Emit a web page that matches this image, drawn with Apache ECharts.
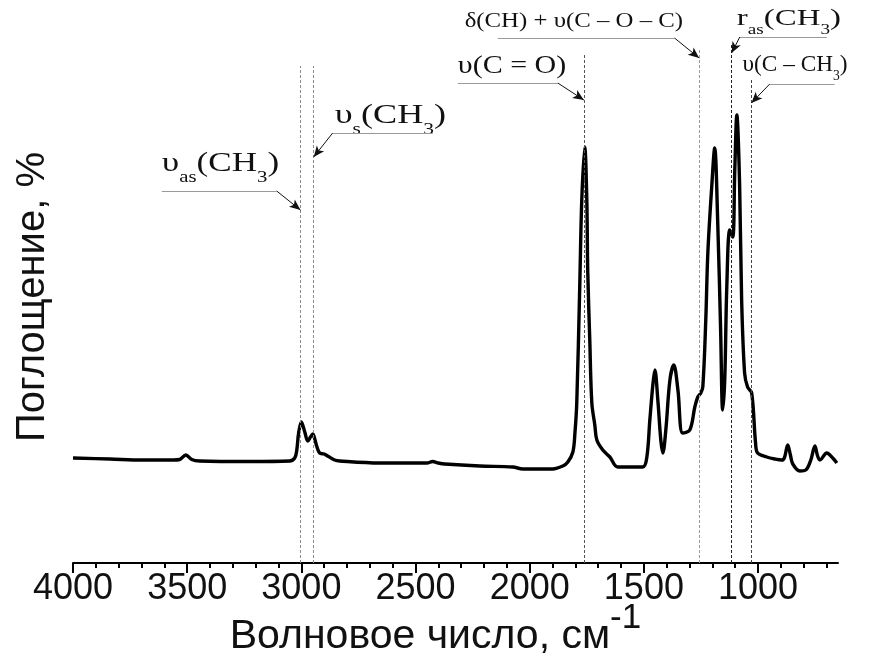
<!DOCTYPE html>
<html><head><meta charset="utf-8">
<script src="https://cdn.jsdelivr.net/npm/echarts@6/dist/echarts.min.js"></script>
<style>html,body{margin:0;padding:0;background:#fff}#c{width:882px;height:659px}</style>
</head><body><div id="c"></div>
<script>
// ---- data ----
const wavenumbers = [4000,3839,3695,3560,3533,3506,3480,3445,3226,3051,3029,3020,3012,3000,2985,2972,2960,2950,2940,2933,2920,2900,2885,2854,2832,2657,2450,2425,2400,2372,2219,2074,2030,1899,1855,1833,1811,1802,1794,1781,1772,1759,1750,1746,1737,1728,1715,1706,1680,1649,1614,1505,1487,1474,1460,1452,1439,1426,1417,1404,1386,1369,1351,1330,1299,1277,1264,1251,1242,1229,1220,1203,1190,1177,1164,1155,1146,1137,1124,1111,1102,1093,1081,1072,1059,1046,1028,1011,1002,962,927,896,885,870,858,848,817,791,769,751,740,729,699,673,655];
const absorbance = [21.0,20.8,20.6,20.6,20.7,21.6,20.7,20.4,20.3,20.4,21.0,22.6,26,28.2,26.2,24.4,25.2,25.8,24.6,23.4,22,21.8,21.4,20.6,20.4,20.0,20.0,20.3,20.0,19.8,19.4,19.2,18.8,18.8,19.4,20.2,22.2,26,32,55.2,72.6,83.2,72.6,58.6,44.6,32,27.6,24.6,22.6,21.2,19.2,19.2,21.2,28.6,36,38.6,32.6,24.6,22,26.6,36.6,39.6,34.6,26,26.6,31.2,33.2,34,35.2,48.6,62,75.2,83,68.6,46.6,30.6,36.6,55.2,66.6,65.2,78.6,89.6,76,52.6,38,35.2,34,24,22,21.2,20.8,20.6,21,23.6,21.5,19.8,18.4,18.6,20.6,23.4,21.5,20.6,22,21,20];
const xTickLabels = [4000,3500,3000,2500,2000,1500,1000];
const bandPositions = [3004, 2946, 1763, 1258, 1116, 1029];
const bandLineTops = [99.4, 99.4, 102, 102.6, 104, 96.6];
const bandLineColors = ['#8a8a8a','#8a8a8a','#555','#9a9a9a','#222','#444'];

// annotation labels
const annotations = [
  {text:'{m|υ}{s|as}{m|(CH}{s|3}{m|)}', size:27, sx:1.3, at:[3611,79], ul:[3611,3108], ulv:74.4, tip:[3004,70.6], from:'r'},
  {text:'{m|υ}{s|s}{m|(CH}{s|3}{m|)}', size:27, sx:1.34, at:[2854,88.6], ul:[2863,2425], ulv:86, tip:[2946,81.2], from:'l'},
  {text:'{m|υ(C = O)}', size:25, sx:1.2, at:[2315,98.6], ul:[2315,1877], ulv:96, tip:[1763,92.6], from:'r'},
  {text:'{m|δ(CH) + υ(C – O – C)}', size:20, sx:1.24, at:[2285,107.6], ul:[2140,1366], ulv:105, tip:[1258,101], from:'r'},
  {text:'{m|r}{s|as}{m|(CH}{s|3}{m|)}', size:24, sx:1.37, at:[1093,108.2], ul:[1080,699], ulv:105.2, tip:[1116,102], from:'l'},
  {text:'{m|υ(C – CH}{s|3}{m|)}', size:24, sx:0.97, at:[1068,99], ul:[949,665], ulv:95.8, tip:[1029,92], from:'l'}
];

const minorTicks = [];
for (let v = 700; v <= 4000; v += 100) if (v % 500 !== 0) minorTicks.push(v);

const markLines = [];
bandPositions.forEach((b, i) => {
  markLines.push([{coord:[b, 0], symbol:'none', lineStyle:{color:bandLineColors[i], type:[3,2], width:1}}, {coord:[b, bandLineTops[i]], symbol:'none'}]);
});
annotations.forEach(a => {
  markLines.push([{coord:[a.ul[0], a.ulv], symbol:'none', lineStyle:{color:'#9a9a9a', type:'solid', width:1}}, {coord:[a.ul[1], a.ulv], symbol:'none'}]);
  const start = a.from === 'r' ? a.ul[1] : a.ul[0];
  markLines.push([{coord:[start, a.ulv], symbol:'none', lineStyle:{color:'#111', type:'solid', width:1}}, {coord:a.tip, symbol:'arrow', symbolSize:[7,11]}]);
});

const seriesData = wavenumbers.map((w, i) => [w, absorbance[i]]);
const sansFont = '"Liberation Sans", Arial, sans-serif';

const option = {
  backgroundColor:'#fff',
  animation:false,
  grid:{left:73, right:44, top:3, bottom:96, containLabel:false, outerBoundsMode:'none'},
  xAxis:[{
    type:'value', min:650, max:4000, inverse:true,
    axisLine:{show:true, lineStyle:{color:'#000', width:2}},
    axisTick:{show:true, inside:false, length:10, lineStyle:{color:'#000', width:2}, customValues:xTickLabels},
    axisLabel:{show:true, customValues:xTickLabels, margin:8, color:'#111', fontSize:36, fontFamily:sansFont, formatter:v => String(v)},
    splitLine:{show:false},
    name:'{m|Волновое число, см}{s|-1}', nameLocation:'middle', nameGap:38, nameMoveOverlap:false,
    nameTextStyle:{color:'#111', padding:[0,40,0,0], rich:{
      m:{fontSize:41, fontFamily:sansFont, color:'#111', lineHeight:56, verticalAlign:'bottom'},
      s:{fontSize:35, fontFamily:sansFont, color:'#111', lineHeight:35, verticalAlign:'top'}}}
  },{
    type:'value', min:650, max:4000, inverse:true, position:'bottom',
    axisLine:{show:false},
    axisTick:{show:true, length:5, lineStyle:{color:'#000', width:2}, customValues:minorTicks},
    axisLabel:{show:false}, splitLine:{show:false}
  }],
  yAxis:{
    type:'value', min:0, max:112,
    axisLine:{show:false}, axisTick:{show:false}, axisLabel:{show:false}, splitLine:{show:false},
    name:'Поглощение, %', nameLocation:'middle', nameRotate:90, nameGap:20, nameMoveOverlap:false,
    nameTextStyle:{fontSize:40, color:'#111', fontFamily:sansFont, padding:[0,28,0,0]}
  },
  series:[{
    type:'line', xAxisIndex:0, yAxisIndex:0, data:seriesData, showSymbol:false, smooth:0.35,
    lineStyle:{color:'#000', width:3.4}, clip:false,
    markLine:{silent:true, animation:false, label:{show:false}, symbol:'none', data:markLines}
  }]
};

const chart = echarts.init(document.getElementById('c'));
chart.setOption(option);

const graphics = annotations.map(a => {
  const p = chart.convertToPixel({seriesIndex:0}, a.at);
  return {
    type:'text', x:p[0], y:p[1], scaleX:a.sx, silent:true,
    style:{
      text:a.text, align:'left', verticalAlign:'middle',
      rich:{
        m:{fontSize:a.size, fontFamily:'"Liberation Serif", "Times New Roman", serif', fill:'#111', lineHeight:Math.round(a.size*1.3), verticalAlign:'top'},
        s:{fontSize:Math.round(a.size*0.58), fontFamily:'"Liberation Serif", "Times New Roman", serif', fill:'#111', lineHeight:Math.round(a.size*0.58), verticalAlign:'bottom'}
      }
    }
  };
});
chart.setOption({graphic:graphics});
</script>
</body></html>
